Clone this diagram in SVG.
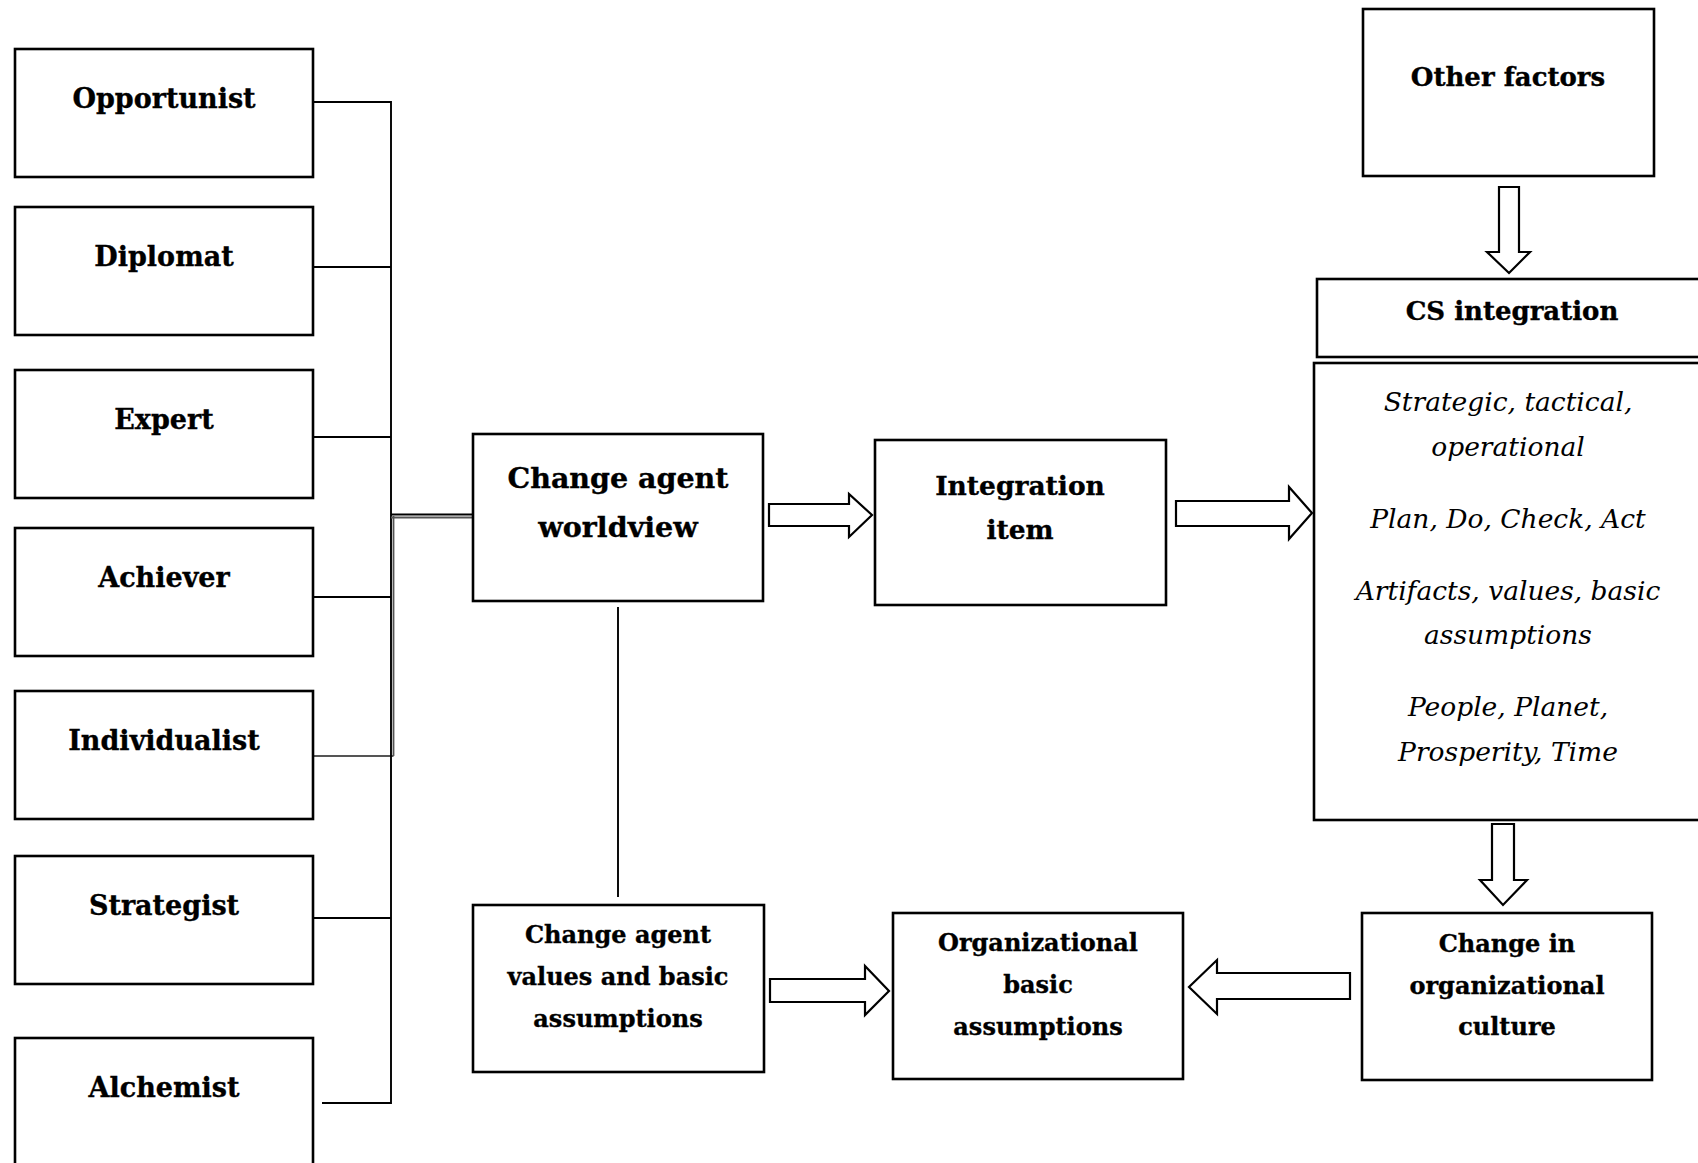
<svg xmlns="http://www.w3.org/2000/svg" width="1698" height="1163" viewBox="0 0 1698 1163">
  <style>
    .box { fill: #fff; stroke: #000; stroke-width: 2.6; }
    .lbl { font-family: "DejaVu Serif", "Liberation Serif", serif; font-weight: bold; fill: #000; stroke: #000; stroke-width: 0.35; text-anchor: middle; }
    .it { font-family: "DejaVu Serif", "Liberation Serif", serif; font-style: italic; fill: #000; text-anchor: middle; font-size: 26.5px; }
    .wire { stroke: #000; stroke-width: 1.9; fill: none; }
    .wire2 { stroke: #555; stroke-width: 1.8; fill: none; }
    .blk { fill: #fff; stroke: #000; stroke-width: 2.2; stroke-linejoin: miter; }
  </style>
  <rect width="1698" height="1163" fill="#fff"/>

  <!-- connectors -->
  <g id="connectors">
    <line class="wire" x1="313" y1="102" x2="391" y2="102"/>
    <line class="wire" x1="311" y1="267" x2="391" y2="267"/>
    <line class="wire" x1="307" y1="437" x2="391" y2="437"/>
    <line class="wire" x1="310" y1="597" x2="391" y2="597"/>
    <line class="wire2" x1="310" y1="756" x2="393.5" y2="756"/>
    <line class="wire" x1="310" y1="918" x2="391" y2="918"/>
    <line class="wire" x1="322" y1="1103" x2="391" y2="1103"/>
    <line class="wire" x1="391" y1="101" x2="391" y2="1104"/>
    <line class="wire2" x1="393.5" y1="516" x2="393.5" y2="756"/>
    <line class="wire" x1="391" y1="514.5" x2="475" y2="514.5"/>
    <line class="wire2" x1="391" y1="517.5" x2="475" y2="517.5"/>
    <line class="wire" x1="618" y1="607" x2="618" y2="897"/>
    <path class="blk" d="M769,504 L849,504 L849,494 L872,515 L849,537 L849,526 L769,526 Z"/>
    <path class="blk" d="M1176,501 L1289,501 L1289,487 L1312,513 L1289,539 L1289,526 L1176,526 Z"/>
    <path class="blk" d="M1499,187 L1519,187 L1519,252 L1530,252 L1509,273 L1487,252 L1499,252 Z"/>
    <path class="blk" d="M1492,824 L1514,824 L1514,880 L1527,880 L1503,905 L1480,880 L1492,880 Z"/>
    <path class="blk" d="M770,979 L865,979 L865,966 L889,991 L865,1015 L865,1002 L770,1002 Z"/>
    <path class="blk" d="M1350,973 L1217,973 L1217,960 L1189,987 L1217,1014 L1217,999 L1350,999 Z"/>
  </g>

  <!-- developmental action logics -->
  <g id="opportunist">
    <rect class="box" x="15" y="49" width="298" height="128"/>
    <text class="lbl" x="164" y="108" font-size="27">Opportunist</text>
  </g>
  <g id="diplomat">
    <rect class="box" x="15" y="207" width="298" height="128"/>
    <text class="lbl" x="164" y="266" font-size="27">Diplomat</text>
  </g>
  <g id="expert">
    <rect class="box" x="15" y="370" width="298" height="128"/>
    <text class="lbl" x="164" y="429" font-size="27">Expert</text>
  </g>
  <g id="achiever">
    <rect class="box" x="15" y="528" width="298" height="128"/>
    <text class="lbl" x="164" y="587" font-size="27">Achiever</text>
  </g>
  <g id="individualist">
    <rect class="box" x="15" y="691" width="298" height="128"/>
    <text class="lbl" x="164" y="750" font-size="27">Individualist</text>
  </g>
  <g id="strategist">
    <rect class="box" x="15" y="856" width="298" height="128"/>
    <text class="lbl" x="164" y="915" font-size="27">Strategist</text>
  </g>
  <g id="alchemist">
    <rect class="box" x="15" y="1038" width="298" height="140"/>
    <text class="lbl" x="164" y="1097" font-size="27">Alchemist</text>
  </g>

  <!-- central column -->
  <g id="worldview">
    <rect class="box" x="473" y="434" width="290" height="167"/>
    <text class="lbl" x="618" y="488" font-size="28.5">Change agent</text>
    <text class="lbl" x="618" y="537" font-size="28.5">worldview</text>
  </g>
  <g id="agent-values">
    <rect class="box" x="473" y="905" width="291" height="167"/>
    <text class="lbl" x="618" y="943" font-size="24">Change agent</text>
    <text class="lbl" x="618" y="985" font-size="24">values and basic</text>
    <text class="lbl" x="618" y="1027" font-size="24">assumptions</text>
  </g>
  <g id="integration-item">
    <rect class="box" x="875" y="440" width="291" height="165"/>
    <text class="lbl" x="1020" y="495" font-size="26.5">Integration</text>
    <text class="lbl" x="1020" y="539" font-size="26.5">item</text>
  </g>
  <g id="org-assumptions">
    <rect class="box" x="893" y="913" width="290" height="166"/>
    <text class="lbl" x="1038" y="951" font-size="24">Organizational</text>
    <text class="lbl" x="1038" y="993" font-size="24">basic</text>
    <text class="lbl" x="1038" y="1035" font-size="24">assumptions</text>
  </g>

  <!-- right column -->
  <g id="other-factors">
    <rect class="box" x="1363" y="9" width="291" height="167"/>
    <text class="lbl" x="1508" y="86" font-size="26">Other factors</text>
  </g>
  <g id="cs-integration">
    <rect class="box" x="1317" y="279" width="420" height="78"/>
    <text class="lbl" x="1512" y="320" font-size="26">CS integration</text>
  </g>
  <g id="cs-dimensions">
    <rect class="box" x="1314" y="363" width="420" height="457"/>
    <text class="it" x="1508" y="411">Strategic, tactical,</text>
    <text class="it" x="1508" y="456">operational</text>
    <text class="it" x="1508" y="528">Plan, Do, Check, Act</text>
    <text class="it" x="1508" y="600">Artifacts, values, basic</text>
    <text class="it" x="1508" y="644">assumptions</text>
    <text class="it" x="1508" y="716">People, Planet,</text>
    <text class="it" x="1508" y="761">Prosperity, Time</text>
  </g>
  <g id="culture-change">
    <rect class="box" x="1362" y="913" width="290" height="167"/>
    <text class="lbl" x="1507" y="952" font-size="24">Change in</text>
    <text class="lbl" x="1507" y="994" font-size="24">organizational</text>
    <text class="lbl" x="1507" y="1035" font-size="24">culture</text>
  </g>
</svg>
